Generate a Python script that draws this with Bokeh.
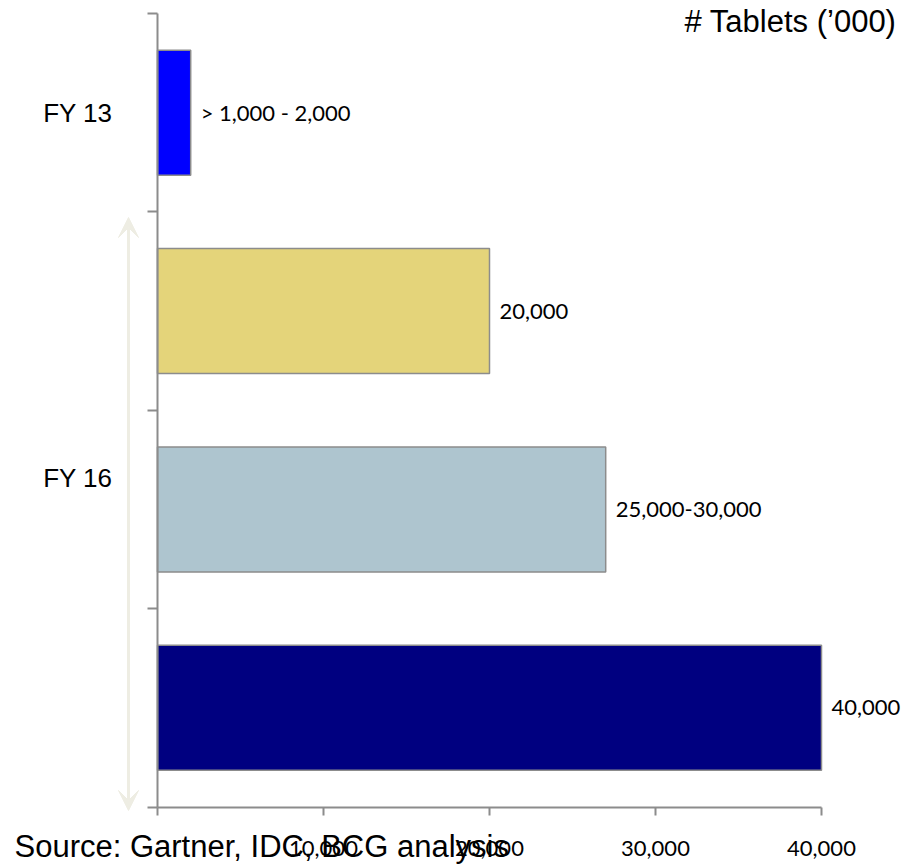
from bokeh.plotting import figure
from bokeh.models import (ColumnDataSource, Range1d, FixedTicker, NumeralTickFormatter,
                          LabelSet, Label, Arrow, VeeHead)
from bokeh.core.properties import value
from bokeh.embed import file_html
from bokeh.resources import INLINE

# ---- data ----
group_labels = ["FY 13", "FY 16"]
bar_values = [2000, 20000, 27000, 40000]
bar_labels = ["> 1,000 - 2,000", "20,000", "25,000-30,000", "40,000"]
bar_colors = ["#0000FF", "#E4D47A", "#AEC5CF", "#000080"]
x_ticks = [0, 10000, 20000, 30000, 40000]
unit_title = "# Tablets (\u2019000)"
source_note = "Source: Gartner, IDC, BCG analysis"

# ---- layout ----
W, H = 905, 864
n_bands = len(bar_values)
x_max = x_ticks[-1]
bar_pos = [n_bands - 0.5 - i for i in range(n_bands)]
group_pos = [3.5, 1.66]

# pixel placement of the plotting area (axes) inside the canvas
left_px, right_px, top_px, bottom_px = 157, 821, 13, 806.5
xs = (right_px - left_px) / x_max          # px per x unit
ys = (bottom_px - top_px) / n_bands         # px per y unit
x_range = Range1d(-left_px / xs, x_max + (W - right_px) / xs)
y_range = Range1d(-(H - bottom_px) / ys, n_bands + top_px / ys)

AXIS_COLOR = "#8C8C8C"

p = figure(width=W, height=H, output_backend="svg", toolbar_location=None,
           x_range=x_range, y_range=y_range,
           min_border_left=0, min_border_right=0, min_border_top=0, min_border_bottom=0)
p.background_fill_color = "white"
p.border_fill_color = "white"
p.outline_line_color = None
p.xgrid.visible = False
p.ygrid.visible = False

src = ColumnDataSource(dict(y=bar_pos, value=bar_values, label=bar_labels, color=bar_colors))
p.hbar(y="y", right="value", left=0, height=0.63, source=src,
       fill_color="color", line_color=AXIS_COLOR, line_width=1.5)

# x axis
xa = p.xaxis[0]
xa.fixed_location = 0
xa.bounds = (0, x_max)
xa.ticker = FixedTicker(ticks=x_ticks)
xa.formatter = NumeralTickFormatter(format="0,0")
xa.major_label_overrides = {0: ""}
xa.axis_line_color = AXIS_COLOR
xa.axis_line_width = 2
xa.major_tick_line_color = AXIS_COLOR
xa.major_tick_line_width = 2
xa.major_tick_out = 8
xa.major_tick_in = 0
xa.minor_tick_line_color = None
xa.major_label_text_font = "Lato"
xa.major_label_text_font_size = "22px"
xa.major_label_text_color = "black"
xa.major_label_standoff = 26

# y axis
ya = p.yaxis[0]
ya.fixed_location = 0
ya.bounds = (0, n_bands)
ya.ticker = FixedTicker(ticks=group_pos, minor_ticks=list(range(n_bands + 1)))
ya.major_label_overrides = {group_pos[0]: group_labels[0], group_pos[1]: group_labels[1]}
ya.axis_line_color = AXIS_COLOR
ya.axis_line_width = 2
ya.major_tick_line_color = None
ya.major_tick_out = 0
ya.major_tick_in = 0
ya.minor_tick_line_color = AXIS_COLOR
ya.minor_tick_line_width = 2
ya.minor_tick_out = 10
ya.minor_tick_in = 0
ya.major_label_text_font = "Liberation Sans"
ya.major_label_text_font_size = "26px"
ya.major_label_text_color = "black"
ya.major_label_standoff = 35

# value labels
p.add_layout(LabelSet(x="value", y="y", text="label", source=src, x_offset=10,
                      text_baseline="middle", text_align="left",
                      text_font=value("Lato"), text_font_size=value("22px"),
                      text_color="black"))

# double-headed arrow spanning FY 16 bars
arrow_color = "#EEEDE3"
arrow_x = -(left_px - 128) / xs
p.add_layout(Arrow(x_start=arrow_x, y_start=-(810 - bottom_px) / ys,
                   x_end=arrow_x, y_end=n_bands - (217 - top_px) / ys,
                   line_color=arrow_color, line_width=3,
                   start=VeeHead(size=20, fill_color=arrow_color, line_color=arrow_color),
                   end=VeeHead(size=20, fill_color=arrow_color, line_color=arrow_color)))

# unit title
p.add_layout(Label(x=(896 - left_px) / xs, y=n_bands - (21 - top_px) / ys, text=unit_title,
                   text_align="right", text_baseline="alphabetic",
                   text_font="Liberation Sans", text_font_size="31px", text_color="black"))

# source note
p.add_layout(Label(x=-(left_px - 14) / xs, y=-(846 - bottom_px) / ys, text=source_note,
                   text_align="left", text_baseline="alphabetic",
                   text_font="Liberation Sans", text_font_size="31px", text_color="black"))

open("out.html", "w").write(file_html(p, INLINE))
